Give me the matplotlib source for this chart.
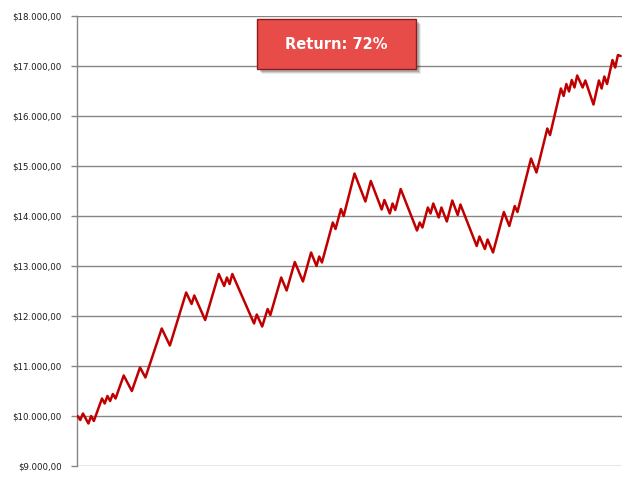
import matplotlib
matplotlib.use("Agg")
import matplotlib.pyplot as plt
from matplotlib.ticker import FuncFormatter, FixedLocator
from matplotlib.patches import Rectangle

# Turning points of the equity curve: trade number and account balance
trade_idx = [0, 1, 2, 4, 5, 6, 9, 10, 11, 12, 13, 14, 17, 20, 23, 25, 31, 34, 40, 42,
             43, 47, 52, 54, 55, 56, 57, 65, 66, 68, 70, 71, 75, 77, 80, 83, 86, 88, 89, 90,
             94, 95, 97, 98, 102, 106, 108, 112, 113, 115, 116, 117, 119, 125, 126, 127, 129, 130, 131, 133,
             134, 136, 138, 140, 141, 147, 148, 150, 151, 153, 157, 159, 161, 162, 167, 169, 173, 174, 178, 179,
             180, 181, 182, 183, 184, 186, 187, 190, 192, 193, 194, 195, 197, 198, 199, 200]
balance = [10000, 9920, 10050, 9850, 10000, 9900, 10350, 10250, 10400, 10300, 10440, 10350, 10810, 10500, 10970, 10770, 11750, 11410, 12470, 12240,
           12410, 11920, 12840, 12600, 12770, 12640, 12840, 11850, 12030, 11790, 12140, 12020, 12770, 12510, 13080, 12690, 13270, 13000, 13190, 13070,
           13870, 13740, 14140, 14000, 14850, 14290, 14700, 14130, 14320, 14050, 14250, 14120, 14540, 13710, 13870, 13770, 14170, 14050, 14250, 13970,
           14170, 13890, 14310, 14020, 14230, 13400, 13590, 13340, 13530, 13270, 14080, 13800, 14200, 14080, 15150, 14870, 15750, 15620, 16550, 16400,
           16640, 16490, 16720, 16570, 16810, 16570, 16710, 16230, 16710, 16550, 16790, 16640, 17120, 16970, 17220, 17200]
y_ticks = [9000, 10000, 11000, 12000, 13000, 14000, 15000, 16000, 17000, 18000]
return_label = "Return: 72%"

W, H = 641, 486
fig = plt.figure(figsize=(W / 100, H / 100), dpi=100)
ax = fig.add_axes([77 / W, 1 - 466 / H, (622 - 77) / W, (466 - 16) / H])

grid_c = "#868686"
for v in y_ticks:
    ax.axhline(v, color=grid_c, lw=1.0, zorder=1)

ax.plot(trade_idx, balance, color="#C00000", lw=1.8, solid_joinstyle="round",
        solid_capstyle="round", zorder=3)

ax.set_xlim(-0.2, 200.5)
ax.set_ylim(9000, 18000)
ax.yaxis.set_major_locator(FixedLocator(y_ticks))


def money(v, pos):
    s = f"{v:,.2f}"
    s = s.replace(",", "X").replace(".", ",").replace("X", ".")
    return "$" + s


ax.yaxis.set_major_formatter(FuncFormatter(money))
ax.set_xticks([])
for sp in ["top", "right", "bottom"]:
    ax.spines[sp].set_visible(False)
ax.spines["left"].set_color(grid_c)
ax.spines["left"].set_linewidth(1.0)
ax.tick_params(axis="y", direction="out", length=4, width=1.0, color=grid_c,
               labelsize=6.2, labelcolor="#1a1a1a", pad=7)

# Return annotation box with drop shadow
bx0, by0, bx1, by1 = 257, 19, 416, 69
for i, a in enumerate([0.08, 0.12, 0.16]):
    off = 5 - i * 1.2
    fig.add_artist(Rectangle(((bx0 + off) / W, 1 - (by1 + off) / H),
                             (bx1 - bx0) / W, (by1 - by0) / H,
                             transform=fig.transFigure, facecolor="#000000",
                             edgecolor="none", alpha=a, zorder=5))
fig.add_artist(Rectangle((bx0 / W, 1 - by1 / H), (bx1 - bx0) / W, (by1 - by0) / H,
                         transform=fig.transFigure, facecolor="#E84C48",
                         edgecolor="#8B1C1C", lw=1.0, zorder=6))
fig.text((bx0 + bx1) / 2 / W, 1 - 44.5 / H, return_label, ha="center", va="center",
         color="white", fontsize=10.5, fontweight="bold", zorder=7)

fig.savefig("out.png", dpi=100)
